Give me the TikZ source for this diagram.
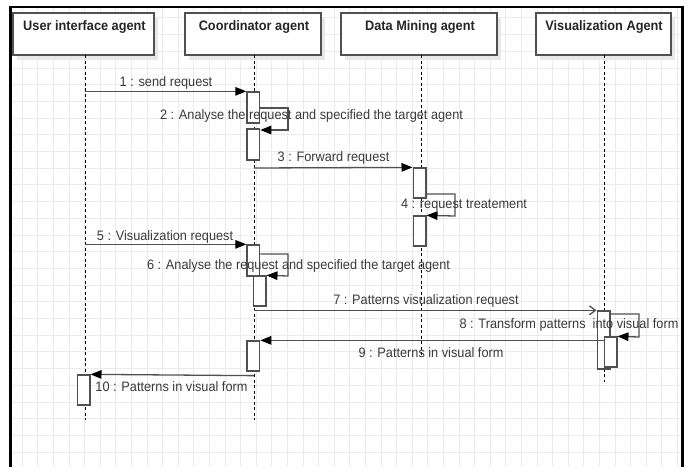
\documentclass[tikz,border=0pt]{standalone}
\usepackage{fontspec}
\setmainfont{Liberation Sans}
\newfontfamily\tallsans[FakeStretch=0.93]{Liberation Sans}
\usetikzlibrary{arrows.meta,shadows}
\definecolor{gridc}{HTML}{EBEBEB}
\definecolor{linec}{HTML}{505050}
\definecolor{textc}{HTML}{3A3A3A}
\tikzset{
  headbox/.style={draw=linec, line width=1.2pt, fill=white, minimum height=42pt,
    inner sep=0pt, drop shadow={shadow xshift=4pt, shadow yshift=-5pt, fill=black!9, opacity=1}},
  headtext/.style={font=\tallsans\bfseries\fontsize{13.7}{15}\selectfont, text=black!85, inner sep=0pt},
  lifeline/.style={draw=black, line width=0.8pt, dash pattern=on 3pt off 2.5pt},
  act/.style={draw=linec, line width=1.3pt, fill=white, inner sep=0pt, minimum width=12.7pt},
  msg/.style={draw=linec, line width=1.3pt, -{Triangle[length=11pt,width=8.5pt,fill=black,color=black]}},
  omsg/.style={draw=linec, line width=1.3pt, -{Straight Barb[length=6pt,width=9pt,color=linec]}},
  lbl/.style={font=\tallsans\fontsize{13.7}{15}\selectfont, text=textc, inner sep=0pt}
}
\begin{document}
\begin{tikzpicture}[x=1pt,y=-1pt]
\useasboundingbox (0,0) rectangle (690,466);
% background grid inside the frame
\begin{scope}
  \clip (10.5,7) rectangle (682.5,466);
  \foreach \i in {0,...,43} \draw[gridc, line width=0.8pt] ({22.2+15.6*\i},7) -- ({22.2+15.6*\i},466);
  \foreach \j in {0,...,27} \draw[gridc, line width=0.8pt] (10.5,{452-16.7*\j}) -- (682.5,{452-16.7*\j});
\end{scope}
% outer frame
\draw[black, line width=2.4pt] (10.5,470) -- (10.5,7) -- (682.5,7) -- (682.5,470);

% agent headers
\node[headbox, minimum width=141pt] (hu) at (83.5,34) {};
\node[headbox, minimum width=136pt] (hc) at (253,34) {};
\node[headbox, minimum width=156pt] (hd) at (419,34) {};
\node[headbox, minimum width=135pt] (hv) at (603.5,34) {};
\node[headtext] (tu) at (84.5,27) {User interface agent};
\node[headtext] (tc) at (254,27) {Coordinator agent};
\node[headtext] (td) at (420,27) {Data Mining agent};
\node[headtext] (tv) at (604,27) {Visualization Agent};

% lifelines
\coordinate (lu) at (85,55);   \coordinate (lue) at (85,420);
\coordinate (lc) at (254,55);  \coordinate (lce) at (254,420);
\coordinate (ld) at (421,55);  \coordinate (lde) at (421,355);
\coordinate (lv) at (604,55);  \coordinate (lve) at (604,382);
\draw[lifeline] (lu) -- (lue);
\draw[lifeline] (lc) -- (lce);
\draw[lifeline] (ld) -- (lde);
\draw[lifeline] (lv) -- (lve);

% activation bars
\node[act, minimum height=31pt] (c1) at (253.3,107.5) {};
\node[act, minimum height=31pt] (c2) at (253.3,144.5) {};
\node[act, minimum height=30pt] (d1) at (419.5,183) {};
\node[act, minimum height=30pt] (d2) at (419.5,231) {};
\node[act, minimum height=31pt] (c3) at (253.3,260.5) {};
\node[act, minimum height=30pt] (c4) at (259.5,291) {};
\node[act, minimum height=58pt] (v1) at (603.5,340) {};
\node[act, minimum height=30pt] (v2) at (610.5,352) {};
\node[act, minimum height=30pt] (c5) at (253.3,356) {};
\node[act, minimum height=30pt] (u1) at (83.5,390) {};

% loop corners
\coordinate (k2a) at (288,108);  \coordinate (k2b) at (288,130);
\coordinate (k4a) at (455,194);  \coordinate (k4b) at (455,216);
\coordinate (k6a) at (288,254);  \coordinate (k6b) at (288,276);
\coordinate (k8a) at (639,314);  \coordinate (k8b) at (639,337);

% messages
\draw[msg] (lu |- c1.north) -- (c1.north west);
\draw[msg] (c1.east |- k2a) -- (k2a) -- (k2b) -- (c2.north east |- k2b);
\draw[msg] (lc |- 0,168) -- (d1.north west);
\draw[msg] (d1.east |- k4a) -- (k4a) -- (k4b) -- (d2.north east);
\draw[msg] (lu |- c3.north) -- (c3.north west);
\draw[msg] (c3.east |- k6a) -- (k6a) -- (k6b) -- (c4.north east);
\draw[omsg] (lc |- v1.north) -- (v1.north west);
\draw[msg] (v1.east |- k8a) -- (k8a) -- (k8b) -- (v2.north east);
\draw[msg] (v2.west |- c5.north) -- (c5.north east);
\draw[msg] (c5.south -| lc) ++(0,4) coordinate (m10) -- (u1.north east);

% message labels
\node[lbl] (l1) at (166,83) {1 : send request};
\node[lbl] (l2) at (311.5,116) {2 : Analyse the request and specified the target agent};
\node[lbl] (l3) at (333.5,158) {3 : Forward request};
\node[lbl] (l4) at (464,205) {4 : request treatement};
\node[lbl] (l5) at (165,237) {5 : Visualization request};
\node[lbl] (l6) at (298.5,266) {6 : Analyse the request and specified the target agent};
\node[lbl] (l7) at (426,301) {7 : Patterns visualization request};
\node[lbl] (l8) at (569,325) {8 : Transform patterns\ \ into visual form};
\node[lbl] (l9) at (431,353) {9 : Patterns in visual form};
\node[lbl] (l10) at (171.5,387) {10 : Patterns in visual form};
\end{tikzpicture}
\end{document}
